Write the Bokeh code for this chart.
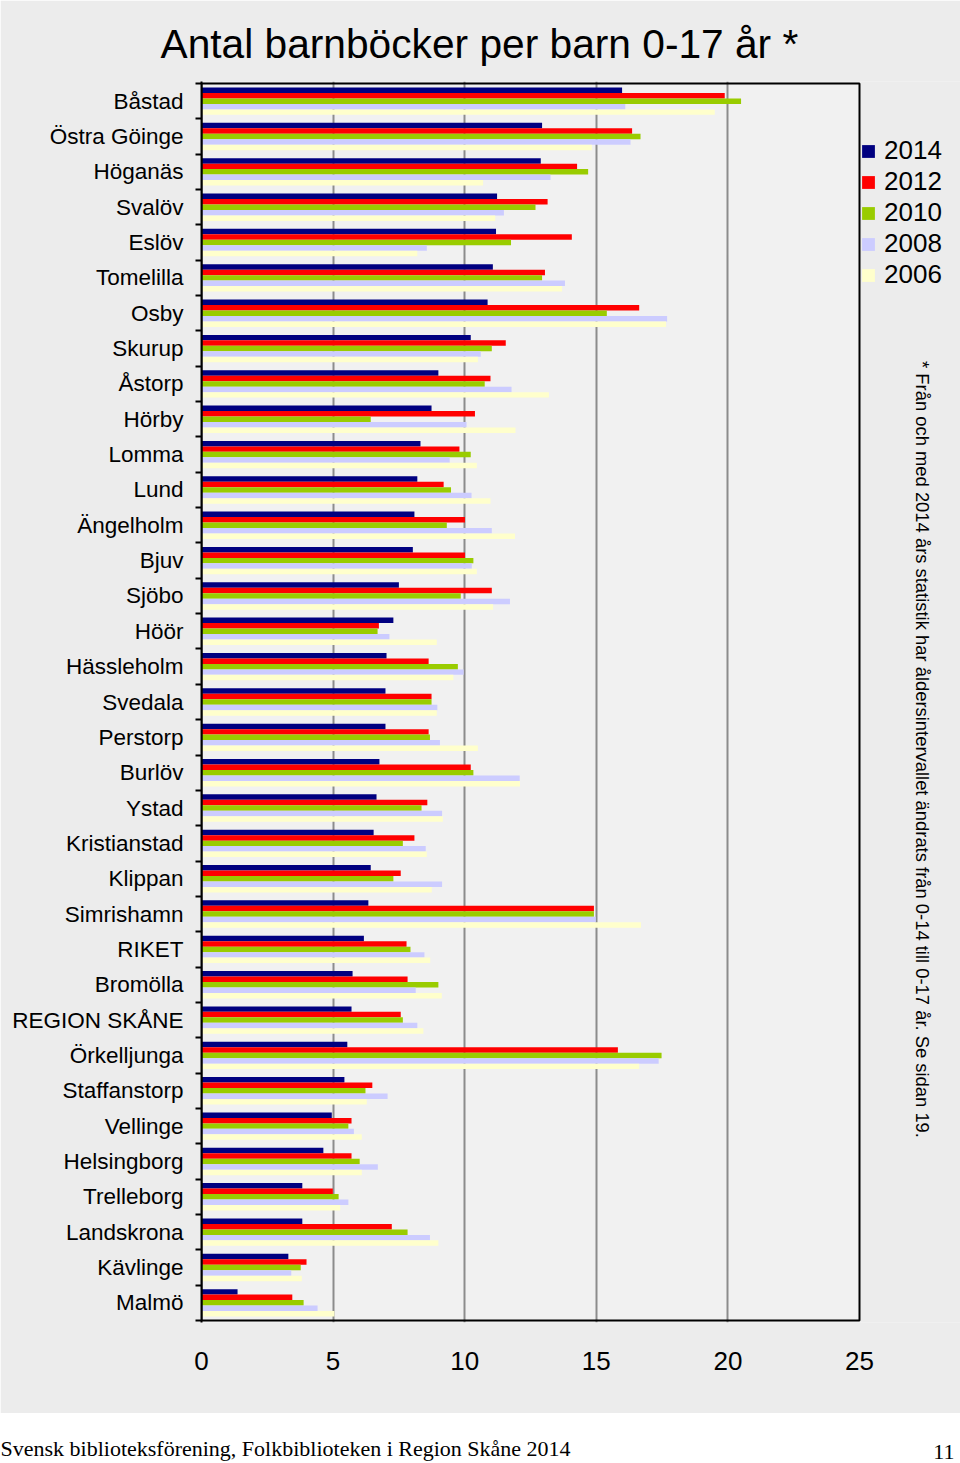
import math
from bokeh.plotting import figure
from bokeh.models import (Range1d, FixedTicker, Label, Legend, LegendItem,
                          ColumnDataSource, Title, BoxAnnotation, Grid)
from bokeh.layouts import column, row
from bokeh.embed import file_html
from bokeh.resources import INLINE

# ---------------- data ----------------
categories = ["Båstad", "Östra Göinge", "Höganäs", "Svalöv", "Eslöv", "Tomelilla",
              "Osby", "Skurup", "Åstorp", "Hörby", "Lomma", "Lund", "Ängelholm",
              "Bjuv", "Sjöbo", "Höör", "Hässleholm", "Svedala", "Perstorp", "Burlöv",
              "Ystad", "Kristianstad", "Klippan", "Simrishamn", "RIKET", "Bromölla",
              "REGION SKÅNE", "Örkelljunga", "Staffanstorp", "Vellinge", "Helsingborg",
              "Trelleborg", "Landskrona", "Kävlinge", "Malmö"]

years = ["2014", "2012", "2010", "2008", "2006"]
colors = ["#000080", "#ff0000", "#99cc00", "#ccccff", "#ffffcc"]

v2014 = [15.98, 12.94, 12.89, 11.23, 11.19, 11.07, 10.87, 10.23, 9.00, 8.74, 8.32, 8.20,
         8.09, 8.03, 7.50, 7.29, 7.03, 6.99, 6.99, 6.76, 6.65, 6.54, 6.43, 6.34, 6.17,
         5.74, 5.70, 5.54, 5.43, 4.95, 4.63, 3.83, 3.83, 3.30, 1.37]
v2012 = [19.88, 16.36, 14.27, 13.15, 14.07, 13.05, 16.63, 11.56, 10.98, 10.39, 9.80, 9.20,
         10.01, 10.01, 11.03, 6.74, 8.63, 8.74, 8.63, 10.23, 8.58, 8.09, 7.57, 14.91, 7.79,
         7.83, 7.57, 15.82, 6.49, 5.70, 5.70, 4.99, 7.23, 3.99, 3.45]
v2010 = [20.50, 16.68, 14.69, 12.69, 11.76, 12.94, 15.40, 11.03, 10.76, 6.43, 10.23, 9.48,
         9.32, 10.33, 9.85, 6.69, 9.74, 8.74, 8.68, 10.33, 8.36, 7.65, 7.29, 14.91, 7.94,
         9.00, 7.65, 17.48, 6.23, 5.58, 6.01, 5.21, 7.83, 3.77, 3.88]
v2008 = [16.10, 16.30, 13.26, 11.49, 8.56, 13.81, 17.69, 10.61, 11.78, 10.07, 9.43, 10.26,
         11.03, 10.27, 11.72, 7.14, 9.96, 8.96, 9.06, 12.09, 9.14, 8.52, 9.14, 14.98, 8.47,
         8.14, 8.20, 17.37, 7.07, 5.79, 6.70, 5.58, 8.68, 3.41, 4.41]
v2006 = [19.50, 14.83, 10.70, 11.16, 8.20, 13.70, 17.65, 10.50, 13.20, 11.93, 10.46, 10.98,
         11.91, 10.46, 11.08, 8.94, 9.57, 8.94, 10.50, 12.10, 9.17, 8.56, 8.75, 16.70, 8.69,
         9.13, 8.43, 16.63, 6.28, 6.09, 6.09, 5.27, 9.00, 3.81, 5.05]

series = [v2014, v2012, v2010, v2008, v2006]

x_ticks = [0, 5, 10, 15, 20, 25]
grid_ticks = [5, 10, 15, 20]

# ---------------- geometry (window pixels) ----------------
N = len(categories)
PAGE_W = 960
TOP_H = 1413                      # grey part of the page
FOOT_H = 1463 - TOP_H             # white footer band
FL, FR, FT, FB = 201, 859, 83, 1320   # plot area edges
XMAX = 25
PAD = 2                           # frame overhang so border lines are not clipped
GREY = "#ececec"
PLOT_BG = "#f1f1f1"

xs = (FR - FL) / XMAX             # px per x unit
ys = (FB - FT) / N                # px per category


def xd(px):
    return (px - FL) / xs


def yd(py):
    return -0.5 + (FB - py) / ys


p = figure(width=PAGE_W, height=TOP_H, output_backend="svg", toolbar_location=None,
           x_range=Range1d(0, xd(PAGE_W)),
           y_range=Range1d(yd(FB + PAD), yd(FT - PAD)),
           min_border_left=FL, min_border_right=0,
           min_border_top=FT - PAD, min_border_bottom=TOP_H - (FB + PAD))

p.background_fill_color = GREY
p.border_fill_color = GREY
p.outline_line_color = None
p.xgrid.visible = False
p.ygrid.visible = False

# plot area background
p.add_layout(BoxAnnotation(left=0, right=XMAX, bottom=-0.5, top=N - 0.5,
                           fill_color=PLOT_BG, fill_alpha=1, line_color=None,
                           level="underlay"))
# vertical grid lines
p.add_layout(Grid(dimension=0, ticker=FixedTicker(ticks=grid_ticks),
                  grid_line_color="#8c8c8c", grid_line_width=2, level="underlay"))

bh = 0.155
renderers = []
for k, (yr, col, vals) in enumerate(zip(years, colors, series)):
    yy = [(N - 1 - i) + (2 - k) * bh for i in range(N)]
    src = ColumnDataSource(dict(y=yy, v=vals))
    r = p.hbar(y="y", left=0, right="v", height=bh, source=src,
               fill_color=col, line_color=None)
    renderers.append(r)

# plot area border
p.add_layout(BoxAnnotation(left=0, right=XMAX, bottom=-0.5, top=N - 0.5,
                           fill_alpha=0, line_color="black", line_alpha=1,
                           line_width=2, level="overlay"))

# axes
p.xaxis.ticker = FixedTicker(ticks=x_ticks)
p.xaxis.major_tick_line_color = None
p.xaxis.minor_tick_line_color = None
p.xaxis.major_tick_out = 0
p.xaxis.major_tick_in = 0
p.xaxis.axis_line_color = None
p.xaxis.major_label_text_font = "Liberation Sans"
p.xaxis.major_label_text_font_size = "26px"
p.xaxis.major_label_text_color = "black"
p.xaxis.major_label_standoff = 29

p.yaxis.ticker = FixedTicker(ticks=list(range(N)),
                             minor_ticks=[i + 0.5 for i in range(-1, N)])
p.yaxis.major_label_overrides = {N - 1 - i: c for i, c in enumerate(categories)}
p.yaxis.major_tick_line_color = None
p.yaxis.major_tick_out = 0
p.yaxis.major_tick_in = 0
p.yaxis.minor_tick_line_color = "black"
p.yaxis.minor_tick_line_width = 2
p.yaxis.minor_tick_out = 6
p.yaxis.minor_tick_in = 0
p.yaxis.axis_line_width = 2
p.yaxis.axis_line_color = "black"
p.yaxis.major_label_text_font = "Liberation Sans"
p.yaxis.major_label_text_font_size = "22.5px"
p.yaxis.major_label_text_color = "black"
p.yaxis.major_label_standoff = 12

# title
p.add_layout(Title(text="Antal barnböcker per barn 0-17 år *", align="left",
                   offset=160 - FL, standoff=30,
                   text_font="Liberation Sans", text_font_size="40.7px",
                   text_font_style="normal", text_color="black"), "above")

# legend (inside the frame, to the right of the plot area)
LEG_TOP, ROW_H = 136, 30.8
legend = Legend(items=[LegendItem(label=y, renderers=[r]) for y, r in zip(years, renderers)],
                location=(860 - FL, (FB + PAD) - (LEG_TOP + 5 * ROW_H)),
                glyph_width=16, glyph_height=16, label_standoff=8,
                label_text_font="Liberation Sans", label_text_font_size="26px",
                label_text_color="black", label_height=16, spacing=0,
                padding=0, margin=0, border_line_color=None,
                background_fill_alpha=0)
p.add_layout(legend)

# rotated note
p.add_layout(Label(x=xd(922), y=yd(749),
                   text="* Från och med 2014 års statistik har åldersintervallet ändrats från 0-14 till 0-17 år. Se sidan 19.",
                   angle=-math.pi / 2, text_font="Liberation Sans", text_font_size="18.4px",
                   text_align="center", text_baseline="middle", text_color="black"))

# ---------------- footer ----------------
FOOT_SPLIT = 861


def footer_fig(w, left, right):
    f = figure(width=w, height=FOOT_H, output_backend="svg", toolbar_location=None,
               x_range=Range1d(0, 1), y_range=Range1d(0, 1),
               x_axis_type=None, y_axis_type=None,
               min_border_left=left, min_border_right=right,
               min_border_top=FOOT_H - 3, min_border_bottom=0)
    f.outline_line_color = None
    f.background_fill_color = "white"
    f.border_fill_color = "white"
    f.xgrid.grid_line_color = None
    f.ygrid.grid_line_color = None
    return f


f1 = footer_fig(FOOT_SPLIT, FL, 2)
f1.add_layout(Title(text="Svensk biblioteksförening, Folkbiblioteken i Region Skåne 2014",
                    align="left", offset=-FL, standoff=0,
                    text_font="Liberation Serif", text_font_size="22px",
                    text_font_style="normal", text_color="black"), "above")
f2 = footer_fig(PAGE_W - FOOT_SPLIT, 0, 0)
f2.add_layout(Title(text="11", align="right", offset=6, standoff=4,
                    text_font="Liberation Serif", text_font_size="22px",
                    text_font_style="normal", text_color="black"), "above")

layout = column(p, row(f1, f2, spacing=0), spacing=0)
open("out.html", "w").write(file_html(layout, INLINE))
